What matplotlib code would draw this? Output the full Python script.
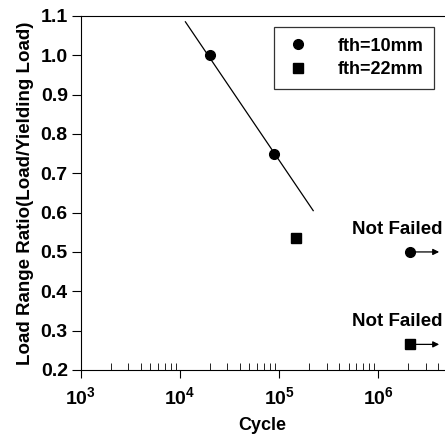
import matplotlib
matplotlib.use("Agg")
from matplotlib import pyplot as plt

plt.rcParams['font.family'] = ['Liberation Sans', 'DejaVu Sans']
plt.rcParams['font.weight'] = 'bold'
plt.rcParams['axes.labelweight'] = 'bold'
plt.rcParams['mathtext.default'] = 'bf'

# fth=10mm failed specimens
cycles_10 = [2.0e4, 8.8e4]
ratio_10 = [1.0, 0.75]
# fth=22mm failed specimen
cycles_22 = [1.47e5]
ratio_22 = [0.535]
# run-outs (not failed)
runout_cycles = [2.06e6, 2.06e6]
runout_ratio = [0.5, 0.265]
runout_end = 4.1e6
# fitted S-N line
fit_cycles = [1.13e4, 2.2e5]
fit_ratio = [1.085, 0.605]

fig = plt.figure(figsize=(4.45, 4.42), dpi=100)
ax = fig.add_axes([0.182, 0.163, 0.816, 0.801])

ax.plot(fit_cycles, fit_ratio, color='black', lw=0.9)
ax.plot(cycles_10, ratio_10, 'o', color='black', ms=7, label='fth=10mm')
ax.plot(cycles_22, ratio_22, 's', color='black', ms=6.5, label='fth=22mm')

ax.plot(runout_cycles[0], runout_ratio[0], 'o', color='black', ms=7)
ax.plot(runout_cycles[1], runout_ratio[1], 's', color='black', ms=6.5)
for xc, yc in zip(runout_cycles, runout_ratio):
    ax.annotate('', xy=(runout_end, yc), xytext=(xc, yc),
                arrowprops=dict(arrowstyle='-|>', color='black', lw=0.9,
                                mutation_scale=9, shrinkA=0, shrinkB=0))
    ax.text(0.995, yc + 0.057, 'Not Failed', transform=ax.get_yaxis_transform(),
            ha='right', va='center', fontsize=13.5)

ax.set_xscale('log')
ax.set_xlim(1e3, 4.6e6)
ax.set_ylim(0.2, 1.1)
ax.set_yticks([0.2, 0.3, 0.4, 0.5, 0.6, 0.7, 0.8, 0.9, 1.0, 1.1])
ax.set_yticklabels(['0.2', '0.3', '0.4', '0.5', '0.6', '0.7', '0.8', '0.9', '1.0', '1.1'])
ax.set_xticks([1e3, 1e4, 1e5, 1e6])
ax.set_xticklabels(['$\\mathregular{10^3}$', '$\\mathregular{10^4}$',
                    '$\\mathregular{10^5}$', '$\\mathregular{10^6}$'])

ax.tick_params(axis='x', which='major', direction='out', length=6, labelsize=14, pad=6)
ax.tick_params(axis='x', which='minor', direction='in', length=5)
ax.tick_params(axis='y', which='major', direction='out', length=6.5, labelsize=14, pad=3)
ax.spines['right'].set_visible(False)

ax.set_xlabel('Cycle', fontsize=13, labelpad=6)
ax.set_ylabel('Load Range Ratio(Load/Yielding Load)', fontsize=13.5, labelpad=5)

leg = ax.legend(loc='upper right', bbox_to_anchor=(0.997, 0.995), fontsize=13,
                frameon=True, fancybox=False, edgecolor='black', handletextpad=1.4,
                borderpad=0.6, labelspacing=0.35, numpoints=1, handlelength=1.5)
leg.get_frame().set_linewidth(0.9)

fig.savefig('out.png', dpi=100)
